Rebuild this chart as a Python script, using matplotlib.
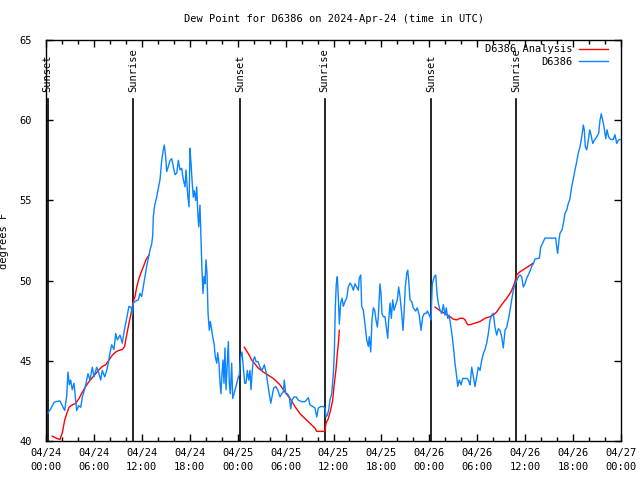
import matplotlib
matplotlib.use('Agg')
import matplotlib.pyplot as plt
from matplotlib.ticker import MultipleLocator

plt.rcParams['font.family'] = ['DejaVu Sans Mono']
plt.rcParams['font.size'] = 7

# hours since 2024-04-24 00:00 UTC
obs_hours = [
    0.25, 0.59, 1.0, 1.21, 1.75, 2.04, 2.34, 2.59, 2.75, 2.92, 3.09, 3.29, 3.51, 3.84,
    4.09, 4.35, 4.55, 4.76, 4.97, 5.26, 5.51, 5.80, 6.01, 6.35, 6.64, 6.85, 7.05, 7.35,
    7.60, 7.80, 8.01, 8.23, 8.51, 8.73, 8.93, 9.27, 9.55, 9.77, 9.98, 10.18, 10.39,
    10.68, 10.81, 10.93, 11.14, 11.56, 11.77, 11.98, 12.18, 12.40, 12.61, 12.81, 13.02,
    13.24, 13.36, 13.44, 13.61, 13.86, 14.06, 14.28, 14.49, 14.69, 14.81, 14.99, 15.11,
    15.31, 15.53, 15.74, 15.94, 16.15, 16.37, 16.57, 16.78, 16.99, 17.19, 17.41, 17.53,
    17.74, 17.91, 18.03, 18.16, 18.28, 18.44, 18.57, 18.75, 18.87, 19.00, 19.12, 19.28,
    19.41, 19.53, 19.66, 19.78, 19.91, 20.03, 20.16, 20.29, 20.45, 20.57, 20.70, 20.87,
    21.04, 21.20, 21.38, 21.50, 21.66, 21.79, 21.91, 22.04, 22.16, 22.29, 22.41, 22.54,
    22.70, 22.83, 22.95, 23.08, 23.25, 23.38, 23.54, 23.79, 24.08, 24.20, 24.38, 24.54,
    24.71, 24.88, 25.04, 25.21, 25.38, 25.54, 25.67, 25.83, 25.96, 26.13, 26.30, 26.55,
    26.80, 27.05, 27.34, 27.55, 27.76, 27.96, 28.14, 28.30, 28.51, 28.76, 29.01, 29.30,
    29.51, 29.71, 29.84, 30.02, 30.22, 30.47, 30.64, 30.80, 31.05, 31.31, 31.59, 32.02,
    32.43, 32.85, 33.06, 33.40, 33.68, 33.90, 34.10, 34.40, 34.72, 34.94, 35.06, 35.22,
    35.40, 35.56, 35.78, 35.98, 36.10, 36.23, 36.35, 36.48, 36.60, 36.73, 36.90, 37.07,
    37.23, 37.44, 37.65, 37.85, 38.07, 38.28, 38.48, 38.69, 38.91, 39.11, 39.23, 39.41,
    39.53, 39.73, 39.94, 40.16, 40.36, 40.48, 40.66, 40.82, 40.99, 41.16, 41.32, 41.49,
    41.61, 41.74, 41.82, 41.95, 42.07, 42.24, 42.45, 42.66, 42.79, 42.91, 43.08, 43.24,
    43.41, 43.58, 43.74, 43.99, 44.16, 44.33, 44.54, 44.70, 44.83, 44.99, 45.17, 45.29,
    45.42, 45.58, 45.79, 45.99, 46.29, 46.49, 46.74, 46.96, 47.17, 47.37, 47.58, 47.75,
    48.00, 48.21, 48.37, 48.62, 48.80, 48.96, 49.12, 49.34, 49.55, 49.75, 49.96, 50.12,
    50.30, 50.46, 50.71, 50.87, 51.05, 51.21, 51.43, 51.55, 51.75, 51.97, 52.18, 52.47,
    52.75, 52.97, 53.09, 53.31, 53.51, 53.72, 53.93, 54.13, 54.35, 54.56, 54.76, 54.97,
    55.18, 55.39, 55.60, 55.81, 56.01, 56.22, 56.44, 56.64, 56.85, 57.06, 57.26, 57.48,
    57.69, 57.89, 58.10, 58.31, 58.52, 58.73, 58.94, 59.14, 59.35, 59.56, 59.77, 59.98,
    60.19, 60.39, 60.61, 60.82, 61.02, 61.24, 61.78, 61.95, 62.15, 62.48, 62.90, 63.52,
    63.82, 63.95, 64.07, 64.24, 64.36, 64.61, 64.78, 64.99, 65.20, 65.40, 65.61, 65.82,
    66.03, 66.24, 66.45, 66.65, 66.87, 67.08, 67.28, 67.40, 67.53, 67.71, 67.91, 68.08,
    68.24, 68.46, 68.66, 68.96, 69.21, 69.37, 69.53, 69.66, 69.87, 70.09, 70.25, 70.46,
    70.71, 71.04, 71.25, 71.46, 71.66, 71.88,
]
obs_dewpt = [
    41.75, 42.0, 42.4, 42.45, 42.5, 42.2, 41.9, 42.8, 44.3, 43.5, 43.8, 43.2, 43.6, 41.9,
    42.2, 42.1, 42.75, 43.1, 43.5, 44.2, 43.8, 44.6, 44.0, 44.6, 44.2, 43.8, 44.4, 44.0,
    44.4, 44.85, 45.5, 46.0, 45.7, 46.7, 46.3, 46.6, 46.1, 46.8, 47.35, 47.85, 48.4,
    48.3, 47.85, 48.6, 48.7, 48.8, 49.2, 49.0, 49.6, 50.25, 50.9, 51.4, 51.9,
    52.3, 52.8, 54.0, 54.7, 55.2, 55.75, 56.3, 57.5, 58.15, 58.45, 57.7, 56.8,
    57.1, 57.5, 57.6, 57.1, 56.6, 56.7, 57.5, 56.9, 57.0, 56.3, 55.85, 56.9,
    55.35, 54.6, 58.25, 57.3, 56.3, 55.2, 55.6, 55.0, 55.85, 54.3, 53.35, 54.7,
    52.7, 50.65, 49.2, 50.25, 49.8, 51.3, 50.45, 47.95, 46.9, 47.45, 47.1, 46.5,
    46.1, 45.25, 44.85, 45.5, 44.85, 43.6, 42.95, 44.2, 45.05, 43.6, 45.8, 43.2,
    44.85, 46.2, 43.6, 42.95, 44.85, 42.65, 42.95, 43.4, 44.0, 44.1, 45.25, 45.55,
    44.6, 43.6, 43.6, 44.4, 43.8, 44.4, 43.2, 44.4, 45.05, 45.25, 44.95, 44.95,
    44.6, 44.4, 44.75, 44.3, 43.6, 42.95, 42.35, 42.75, 43.3, 43.4, 43.2, 42.75,
    42.95, 43.05, 43.8, 42.95, 42.95, 42.75, 42.0, 42.55, 42.75, 42.75, 42.55, 42.45,
    42.45, 42.7, 42.25, 42.15, 42.05, 41.5, 42.05, 42.15, 42.15, 42.05, 41.5, 41.6,
    41.95, 42.55, 42.95, 44.2, 45.45, 48.4, 49.8, 50.25, 49.0, 47.3, 48.6, 48.9,
    48.4, 48.7, 48.9, 49.6, 49.85, 49.7, 49.4, 49.8, 49.6, 49.4, 50.15, 50.35,
    48.4, 48.15, 47.3, 46.3, 45.9, 46.5, 45.55, 47.55, 48.3, 48.15, 47.55, 47.1,
    47.75, 49.1, 49.8, 49.2, 47.95, 47.75, 47.75, 46.9, 46.4, 47.55, 48.6, 47.65,
    48.8, 48.15, 48.4, 48.8, 49.6, 49.0, 47.95, 46.9, 47.95, 49.6, 50.45, 50.65,
    50.0, 48.8, 48.7, 48.3, 48.1, 48.3, 47.85, 46.9, 47.75, 47.95, 47.95, 48.1,
    47.85, 47.55, 49.8, 50.25, 50.35, 49.2, 48.6, 48.15, 47.95, 48.5, 47.85, 48.3,
    47.65, 47.85, 47.1, 46.5, 45.7, 44.85, 44.0, 43.4, 43.8, 43.5, 43.9, 43.9,
    43.9, 43.7, 43.5, 44.6, 44.0, 43.4, 44.0, 44.6, 44.4, 45.05, 45.45, 45.7,
    46.1, 46.7, 47.55, 47.85, 47.95, 47.1, 46.6, 47.0, 46.9, 46.5, 45.8, 46.9,
    47.1, 47.55, 48.15, 48.8, 49.4, 49.8, 50.0, 50.25, 50.35, 50.25, 49.6, 49.8,
    50.15, 50.35, 50.6, 50.9, 51.05, 51.35, 51.4, 52.1, 52.3, 52.65, 52.65, 52.65,
    52.65, 52.1, 51.7, 52.55, 52.95, 53.15, 53.55, 54.2, 54.4, 54.8, 55.1, 55.85,
    56.35, 56.9, 57.4, 57.95, 58.35, 58.95, 59.7, 59.4, 58.35, 58.15, 58.75, 59.4,
    59.1, 58.55, 58.75, 58.95, 59.2, 60.0, 60.4, 60.1, 59.6, 58.85, 59.4, 58.95,
    58.8, 58.8, 59.1, 58.55, 58.75, 58.8,
]

# analysis, three separate overnight runs
ana1_hours = [0.79, 1.41, 1.75, 2.04, 2.34, 2.59, 2.88, 3.29, 3.72, 4.13, 4.55, 4.97,
              5.38, 5.80, 6.22, 6.64, 7.05, 7.48, 7.89, 8.30, 8.73, 9.14, 9.55, 9.85,
              9.98, 10.18, 10.39, 10.61, 10.81, 10.93, 11.14, 11.36, 11.56, 11.86,
              12.18, 12.52, 12.90]
ana1_dewpt = [40.3, 40.15, 40.1, 40.5, 41.3, 41.7, 42.1, 42.25, 42.35, 42.65, 43.05,
              43.4, 43.7, 43.95, 44.2, 44.45, 44.65, 44.75, 45.05, 45.35, 45.55, 45.65,
              45.7, 45.9, 46.3, 46.8, 47.35, 47.85, 48.4, 48.7, 49.0, 49.6, 50.0, 50.45,
              50.85, 51.3, 51.6]
ana2_hours = [24.83, 25.33, 25.76, 26.17, 26.58, 27.21, 27.84, 28.46, 28.89, 29.30,
              29.93, 30.55, 31.18, 31.81, 32.43, 33.06, 33.68, 33.90, 34.94, 35.06,
              35.35, 35.65, 35.90, 36.06, 36.31, 36.48, 36.65, 36.73]
ana2_dewpt = [45.85, 45.45, 45.05, 44.8, 44.55, 44.3, 44.1, 43.9, 43.7, 43.5, 43.05,
              42.65, 42.15, 41.7, 41.4, 41.1, 40.8, 40.6, 40.6, 41.1, 41.4, 41.95,
              42.55, 43.4, 44.45, 45.45, 46.3, 46.9]
ana3_hours = [48.71, 49.12, 49.55, 49.96, 50.59, 51.00, 51.43, 51.84, 52.25, 52.47,
              52.80, 53.09, 53.72, 54.35, 54.97, 55.60, 56.01, 56.44, 57.06, 57.69,
              58.23, 58.64, 58.94, 59.35, 59.98, 60.61, 61.02]
ana3_dewpt = [48.35, 48.2, 48.05, 47.95, 47.75, 47.6, 47.55, 47.65, 47.65, 47.55,
              47.25, 47.25, 47.35, 47.45, 47.65, 47.75, 47.85, 48.05, 48.5, 48.9, 49.3,
              49.8, 50.35, 50.55, 50.75, 50.95, 51.1]

event_hours = [0.2, 10.9, 24.3, 34.9, 48.2, 58.9]
event_names = ['Sunset', 'Sunrise', 'Sunset', 'Sunrise', 'Sunset', 'Sunrise']

tick_hours = [0, 6, 12, 18, 24, 30, 36, 42, 48, 54, 60, 66, 72]
tick_labels = ['04/24\n00:00', '04/24\n06:00', '04/24\n12:00', '04/24\n18:00',
               '04/25\n00:00', '04/25\n06:00', '04/25\n12:00', '04/25\n18:00',
               '04/26\n00:00', '04/26\n06:00', '04/26\n12:00', '04/26\n18:00',
               '04/27\n00:00']

fig = plt.figure(figsize=(6.4, 4.8), dpi=100)
ax = fig.add_axes([46 / 640, 39 / 480, 575 / 640, 401 / 480])

for h, name in zip(event_hours, event_names):
    ax.axvline(h, ymin=0, ymax=0.853, color='black', lw=1.2)
    ax.text(h, 0.87, name, transform=ax.get_xaxis_transform(), rotation=90,
            ha='center', va='bottom', fontsize=7.5)

ax.plot(ana1_hours, ana1_dewpt, color='#ff0000', lw=1.0, label='D6386 Analysis')
ax.plot(ana2_hours, ana2_dewpt, color='#ff0000', lw=1.0)
ax.plot(ana3_hours, ana3_dewpt, color='#ff0000', lw=1.0)
ax.plot(obs_hours, obs_dewpt, color='#0a84ff', lw=1.0, label='D6386')

ax.set_xlim(0, 72)
ax.set_ylim(40, 65)
ax.set_xticks(tick_hours)
ax.set_xticklabels(tick_labels, linespacing=1.55)
ax.xaxis.set_minor_locator(MultipleLocator(2))
ax.yaxis.set_major_locator(MultipleLocator(5))
ax.tick_params(which='both', direction='in', top=True, right=True, labelsize=7.5)
ax.tick_params(which='major', length=5, width=1)
ax.tick_params(which='minor', length=3, width=1)
ax.tick_params(axis='x', pad=5)
ax.tick_params(axis='y', pad=10)
for s in ax.spines.values():
    s.set_linewidth(1)

ax.set_ylabel('degrees F', fontsize=7.5)
ax.yaxis.set_label_coords(-0.064, 0.5)
ax.set_title('Dew Point for D6386 on 2024-Apr-24 (time in UTC)', fontsize=7.5, pad=13)

leg = ax.legend(loc='upper right', bbox_to_anchor=(0.985, 1.0), frameon=False,
                fontsize=7.5, markerfirst=False, handlelength=2.8,
                borderaxespad=0.1, borderpad=0.3, labelspacing=0.25,
                handletextpad=0.6)
for t in leg.get_texts():
    t.set_ha('right')

fig.savefig('out.png', dpi=100)
